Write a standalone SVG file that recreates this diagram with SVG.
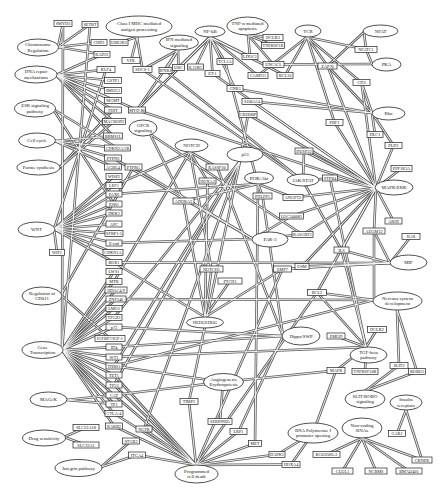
<svg xmlns="http://www.w3.org/2000/svg" xmlns:xlink="http://www.w3.org/1999/xlink" width="448" height="500" viewBox="0 0 448 500">
<style>
.eo{stroke:#5c5c5c;stroke-width:2.6;fill:none;stroke-linecap:round}
.ei{stroke:#fff;stroke-width:0.9;fill:none}
.g rect{fill:#fff;stroke:#222;stroke-width:0.7}
.g text{font-family:"Liberation Serif",serif;font-size:4.3px;text-anchor:middle;fill:#111}
.p ellipse{fill:#fff;stroke:#222;stroke-width:0.8}
.p text{font-family:"Liberation Serif",serif;font-size:4.8px;text-anchor:middle;fill:#111}
</style>
<rect width="448" height="500" fill="#fff"/>
<g id="connectors">
<g class="eo"><g id="edges">
<path d="M58 47L63 23.5"/><path d="M58 47L90 24.5"/><path d="M58 47L99 42.5"/><path d="M58 47L102 54.5"/>
<path d="M56 75L102 54.5"/><path d="M56 75L106 69.5"/><path d="M56 75L113 80.5"/><path d="M56 75L113 90.5"/><path d="M56 75L113 100.5"/><path d="M56 75L113 110"/><path d="M56 75L114 121.5"/><path d="M56 75L113 136"/><path d="M56 75L137 110"/>
<path d="M53 109L114 204"/><path d="M53 109L117.5 148"/>
<path d="M55 141L113 136"/><path d="M55 141L117.5 148"/><path d="M55 141L113 158"/><path d="M55 141L113 167"/>
<path d="M59 168L113 110"/><path d="M59 168L114 121.5"/>
<path d="M54 229L106 69.5"/><path d="M54 229L114 176.5"/><path d="M54 229L114 185.5"/><path d="M54 229L114 194"/><path d="M54 229L114 204"/><path d="M54 229L114 213"/><path d="M54 229L114 224"/><path d="M54 229L114 233.5"/><path d="M54 229L114 243"/><path d="M54 229L113 252.5"/><path d="M54 229L57 252.5"/><path d="M54 229L114 262.5"/>
<path d="M61 295L133.5 167"/><path d="M61 295L110 338.5"/>
<path d="M62 350L63 23.5"/><path d="M62 350L90 24.5"/><path d="M62 350L114 271.5"/><path d="M62 350L114 281.5"/><path d="M62 350L116 290"/><path d="M62 350L116 299"/><path d="M62 350L114 308.5"/><path d="M62 350L114 317.5"/><path d="M62 350L114 327"/><path d="M62 350L114 347"/><path d="M62 350L114 357"/><path d="M62 350L114 366"/><path d="M62 350L114 375"/><path d="M62 350L114 385"/><path d="M62 350L114 395"/><path d="M62 350L114 404"/><path d="M62 350L114 413.5"/><path d="M62 350L114 426"/>
<path d="M66 400L114 404"/><path d="M66 400L114 395"/>
<path d="M64 437L86 427.5"/><path d="M64 437L86 445"/>
<path d="M101 467L131 441"/><path d="M101 467L137 455"/>
<path d="M137 37L119 42.5"/><path d="M137 37L131 60.5"/><path d="M137 37L142.5 69.5"/>
<path d="M178 50L142.5 69.5"/><path d="M178 50L165.5 70.5"/><path d="M178 50L137 110"/><path d="M178 50L178.5 67.5"/>
<path d="M210 37L137 110"/><path d="M210 37L178.5 67.5"/><path d="M210 37L195.5 67"/><path d="M210 37L212.5 73.5"/><path d="M210 37L225 61.5"/><path d="M210 37L250 56.5"/><path d="M210 37L258 75.5"/><path d="M210 37L285 75.5"/><path d="M210 37L235 88.5"/>
<path d="M248 35L250 56.5"/><path d="M248 35L273 37.5"/><path d="M248 35L273 45.5"/><path d="M248 35L273.5 64.5"/>
<path d="M307 37L327.5 66"/><path d="M307 37L366 49.5"/><path d="M307 37L361.5 82.5"/><path d="M307 37L334.5 122.5"/><path d="M307 37L258 75.5"/><path d="M307 37L285 75.5"/>
<path d="M364 32L366 49.5"/><path d="M364 32L327.5 66"/>
<path d="M372 64L366 49.5"/><path d="M372 64L273.5 64.5"/>
<path d="M372 113L361.5 82.5"/><path d="M372 113L327.5 66"/><path d="M372 113L375 134.5"/><path d="M372 113L393.5 145.5"/><path d="M372 113L235 88.5"/><path d="M372 113L252 101.5"/>
<path d="M376 188L401.5 168.5"/><path d="M376 188L393.5 145.5"/><path d="M376 188L304 151"/><path d="M376 188L330 178"/><path d="M376 188L293 197.5"/><path d="M376 188L291.5 216"/><path d="M376 188L302.5 234.5"/><path d="M376 188L393.5 221"/><path d="M376 188L374 231"/><path d="M376 188L341.5 250"/><path d="M376 188L334.5 122.5"/><path d="M376 188L327.5 66"/><path d="M376 188L361.5 82.5"/><path d="M376 188L252 101.5"/><path d="M376 188L248 114.5"/><path d="M376 188L212.5 73.5"/><path d="M376 188L137 110"/><path d="M376 188L302 266.5"/><path d="M376 188L317 292.5"/>
<path d="M303 181L304 151"/><path d="M303 181L142.5 69.5"/><path d="M303 181L165.5 70.5"/><path d="M303 181L341.5 250"/><path d="M303 181L330 178"/>
<path d="M190 152L217 167"/><path d="M190 152L207.5 181"/><path d="M190 152L211.5 269"/><path d="M190 152L114 185.5"/><path d="M190 152L114 281.5"/>
<path d="M150 134L183.5 201"/><path d="M150 134L302.5 234.5"/>
<path d="M240 161L248 114.5"/><path d="M240 161L189 401.5"/><path d="M240 161L144 429"/><path d="M240 161L114 366"/><path d="M240 161L114 385"/><path d="M240 161L114 317.5"/>
<path d="M258 184L262.5 196"/><path d="M258 184L293 197.5"/><path d="M258 184L183.5 201"/><path d="M258 184L225 61.5"/><path d="M258 184L114 194"/><path d="M258 184L255 443.5"/>
<path d="M253 239L133.5 167"/><path d="M253 239L302.5 234.5"/><path d="M253 239L291.5 216"/><path d="M253 239L114 243"/><path d="M253 239L113 158"/>
<path d="M390 263L411 236.5"/><path d="M390 263L302 266.5"/><path d="M390 263L282.5 269"/><path d="M390 263L341.5 250"/><path d="M390 263L374 231"/><path d="M390 263L114 262.5"/>
<path d="M374 300L317 292.5"/><path d="M374 300L116 299"/><path d="M374 300L114 366"/><path d="M374 300L374 231"/>
<path d="M397 310L399 365.5"/><path d="M397 310L417 371.5"/>
<path d="M205 317L211.5 269"/><path d="M205 317L230 281"/><path d="M205 317L282.5 269"/><path d="M205 317L207.5 181"/><path d="M205 317L183.5 201"/><path d="M205 317L114 262.5"/>
<path d="M283 336L217 167"/><path d="M283 336L262.5 196"/><path d="M283 336L114 327"/><path d="M283 336L114 347"/><path d="M283 336L238.5 431.5"/>
<path d="M366 347L336 336"/><path d="M366 347L377 329.5"/><path d="M366 347L317 292.5"/><path d="M366 347L114 357"/><path d="M366 347L341.5 250"/><path d="M366 347L330 178"/><path d="M366 347L365 371.5"/><path d="M366 347L336 370.5"/>
<path d="M223 382L220 421.5"/><path d="M223 382L114 366"/><path d="M223 382L114 395"/><path d="M223 382L336 370.5"/>
<path d="M196 465L144 429"/><path d="M196 465L137 455"/><path d="M196 465L189 401.5"/><path d="M196 465L238.5 431.5"/><path d="M196 465L255 443.5"/><path d="M196 465L277 454.5"/><path d="M196 465L291 464.5"/><path d="M196 465L114 385"/><path d="M196 465L114 395"/><path d="M196 465L114 413.5"/><path d="M196 465L114 426"/><path d="M196 465L114 375"/><path d="M196 465L317 292.5"/><path d="M196 465L282.5 269"/>
<path d="M313 433L291 464.5"/><path d="M313 433L277 454.5"/><path d="M313 433L336 370.5"/>
<path d="M362 438L326.5 454.5"/><path d="M362 438L342.5 471"/><path d="M362 438L376 471"/><path d="M362 438L409 471"/><path d="M362 438L422 460"/>
<path d="M365 391L399 365.5"/><path d="M365 391L417 371.5"/>
<path d="M406 410L397 433.5"/><path d="M406 410L422 460"/>
</g></g>
<use xlink:href="#edges" href="#edges" class="ei"/>
</g>
<g id="pathways" class="p">
<g id="n-chrom"><ellipse cx="38" cy="47.5" rx="20.5" ry="8.5"/><text x="38" y="46.2">Chromosome</text><text x="38" y="51.8">Regulation</text></g>
<g id="n-dna"><ellipse cx="36" cy="74.5" rx="21" ry="8.5"/><text x="36" y="73.2">DNA repair</text><text x="36" y="78.8">mechanisms</text></g>
<g id="n-esr"><ellipse cx="35" cy="108.5" rx="20.5" ry="8.5"/><text x="35" y="107.2">ESR signaling</text><text x="35" y="112.8">pathway</text></g>
<g id="n-cc"><ellipse cx="37" cy="140.5" rx="18.5" ry="7.5"/><text x="37" y="142.2">Cell cycle</text></g>
<g id="n-pur"><ellipse cx="38.5" cy="167.5" rx="21.5" ry="7.5"/><text x="38.5" y="169.2">Purine synthesis</text></g>
<g id="n-wnt"><ellipse cx="36.5" cy="229.5" rx="18.5" ry="7.5"/><text x="36.5" y="231.2">WNT</text></g>
<g id="n-reg"><ellipse cx="42" cy="296" rx="20" ry="9"/><text x="42" y="294.7">Regulation of</text><text x="42" y="300.3">CD011</text></g>
<g id="n-gt"><ellipse cx="42.5" cy="350" rx="20.5" ry="8.5"/><text x="42.5" y="348.7">Gene</text><text x="42.5" y="354.3">Transcription</text></g>
<g id="n-mag"><ellipse cx="48.5" cy="399.5" rx="18.5" ry="7.5"/><text x="48.5" y="401.2">MAGeK</text></g>
<g id="n-drug"><ellipse cx="44" cy="438" rx="21.5" ry="8"/><text x="44" y="439.7">Drug sensitivity</text></g>
<g id="n-integ"><ellipse cx="78.5" cy="468" rx="23.5" ry="8.5"/><text x="78.5" y="469.7">Integrin pathway</text></g>
<g id="n-mhc"><ellipse cx="139" cy="26.5" rx="33" ry="10.5"/><text x="139" y="25.2">Class I MHC mediated</text><text x="139" y="30.8">antigen processing</text></g>
<g id="n-ifn"><ellipse cx="179" cy="42.5" rx="19.5" ry="7.5"/><text x="179" y="41.2">IFN mediated</text><text x="179" y="46.8">signaling</text></g>
<g id="n-nfkb"><ellipse cx="210" cy="31.5" rx="15" ry="5.5"/><text x="210" y="33.2">NF-kB</text></g>
<g id="n-tnf"><ellipse cx="247.5" cy="26" rx="20.5" ry="9"/><text x="247.5" y="24.7">TNF-α mediated</text><text x="247.5" y="30.3">apoptosis</text></g>
<g id="n-tcr"><ellipse cx="308" cy="31" rx="13" ry="6"/><text x="308" y="32.7">TCR</text></g>
<g id="n-nfat"><ellipse cx="380.5" cy="31" rx="17.5" ry="6"/><text x="380.5" y="32.7">NFAT</text></g>
<g id="n-pka"><ellipse cx="386.5" cy="64.5" rx="14.5" ry="6.5"/><text x="386.5" y="66.2">PKA</text></g>
<g id="n-rho"><ellipse cx="388.5" cy="113.5" rx="16.5" ry="6.5"/><text x="388.5" y="115.2">Rho</text></g>
<g id="n-mapk"><ellipse cx="394" cy="187.5" rx="19" ry="7.5"/><text x="394" y="189.2">MAPK/ERK</text></g>
<g id="n-jak"><ellipse cx="303" cy="180" rx="16" ry="6"/><text x="303" y="181.7">JAK/STAT</text></g>
<g id="n-notch"><ellipse cx="191.5" cy="145.5" rx="16.5" ry="6.5"/><text x="191.5" y="147.2">NOTCH</text></g>
<g id="n-gpcr"><ellipse cx="143" cy="128" rx="14" ry="8"/><text x="143" y="126.7">GPCR</text><text x="143" y="132.3">signaling</text></g>
<g id="n-p53"><ellipse cx="245" cy="154.5" rx="18" ry="7.5"/><text x="245" y="156.2">p53</text></g>
<g id="n-pi3k"><ellipse cx="259" cy="178" rx="14.5" ry="6"/><text x="259" y="179.7">PI3K/Akt</text></g>
<g id="n-pak"><ellipse cx="270" cy="239.5" rx="18" ry="7.5"/><text x="270" y="241.2">PAK-2</text></g>
<g id="n-mif"><ellipse cx="408.5" cy="262.5" rx="18.5" ry="7.5"/><text x="408.5" y="264.2">MIF</text></g>
<g id="n-nsd"><ellipse cx="397.5" cy="301" rx="24.5" ry="9"/><text x="397.5" y="299.7">Nervous system</text><text x="397.5" y="305.3">development</text></g>
<g id="n-hh"><ellipse cx="205" cy="322.5" rx="18.5" ry="5.5"/><text x="205" y="324.1" style="font-size:4.4px">HEDGEHOG</text></g>
<g id="n-hippo"><ellipse cx="301" cy="336" rx="19" ry="9"/><text x="301" y="337.7">Hippo/SWP</text></g>
<g id="n-tgf"><ellipse cx="368.5" cy="355" rx="18.5" ry="8"/><text x="368.5" y="353.7">TGF-beta</text><text x="368.5" y="359.3">pathway</text></g>
<g id="n-angio"><ellipse cx="223.5" cy="382" rx="20" ry="8.5"/><text x="223.5" y="380.7">Angiogenesis</text><text x="223.5" y="386.3">Erythropoiesis</text></g>
<g id="n-pcd"><ellipse cx="196.5" cy="474" rx="21.5" ry="9"/><text x="196.5" y="472.7">Programmed</text><text x="196.5" y="478.3">cell death</text></g>
<g id="n-rna"><ellipse cx="313" cy="433" rx="25" ry="10"/><text x="313" y="431.7">RNA Polymerase I</text><text x="313" y="437.3">promoter opening</text></g>
<g id="n-nc"><ellipse cx="362" cy="428" rx="20" ry="10"/><text x="362" y="426.7">Non-coding</text><text x="362" y="432.3">RNAs</text></g>
<g id="n-slit"><ellipse cx="365" cy="399" rx="20" ry="9"/><text x="365" y="397.7">SLIT/ROBO</text><text x="365" y="403.3">signaling</text></g>
<g id="n-ins"><ellipse cx="406" cy="402.5" rx="16" ry="7.5"/><text x="406" y="401.2">Insulin</text><text x="406" y="406.8">receptors</text></g>
</g>
<g id="genes" class="g">
<g id="g-smyd3"><rect x="54" y="20.5" width="18" height="6"/><text x="63" y="25">SMYD3</text></g>
<g id="g-setbt"><rect x="82" y="21.5" width="16" height="6"/><text x="90" y="26">SETBT</text></g>
<g id="g-chd1"><rect x="91" y="39.5" width="16" height="6"/><text x="99" y="44">CHD1</text></g>
<g id="g-ube2r2"><rect x="110" y="39.5" width="18" height="6"/><text x="119" y="44">UBE2R2</text></g>
<g id="g-rad21"><rect x="94" y="51.5" width="16" height="6"/><text x="102" y="56">RAD21</text></g>
<g id="g-vhl"><rect x="122" y="57.5" width="18" height="6"/><text x="131" y="62">VHL</text></g>
<g id="g-klf4"><rect x="97" y="66.5" width="18" height="6"/><text x="106" y="71">KLF4</text></g>
<g id="g-socs1"><rect x="133" y="66.5" width="19" height="6"/><text x="142.5" y="71">SOCS-1</text></g>
<g id="g-gstp1"><rect x="104.5" y="77.5" width="17" height="6"/><text x="113" y="82">GSTP1</text></g>
<g id="g-smug1"><rect x="104.5" y="87.5" width="17" height="6"/><text x="113" y="92">SMUG1</text></g>
<g id="g-mgmt"><rect x="104.5" y="97.5" width="17" height="6"/><text x="113" y="102">MGMT</text></g>
<g id="g-fhit"><rect x="104.5" y="107" width="17" height="6"/><text x="113" y="111.5">FHIT</text></g>
<g id="g-myd88"><rect x="128.5" y="107" width="17" height="6"/><text x="137" y="111.5">MYD 88</text></g>
<g id="g-macrod2"><rect x="102.5" y="118.5" width="23" height="6"/><text x="114" y="123">MACROD2</text></g>
<g id="g-brms1l"><rect x="103.5" y="133" width="19" height="6"/><text x="113" y="137.5">BRMS1L</text></g>
<g id="g-cdkn2a"><rect x="104.5" y="145" width="26" height="6"/><text x="117.5" y="149.5">CDKN2A/2B</text></g>
<g id="g-ptpn6"><rect x="104.5" y="155" width="17" height="6"/><text x="113" y="159.5">PTPN6</text></g>
<g id="g-agbl4"><rect x="104.5" y="164" width="17" height="6"/><text x="113" y="168.5">AGBL4</text></g>
<g id="g-ptprg"><rect x="125" y="164" width="17" height="6"/><text x="133.5" y="168.5">PTPRG</text></g>
<g id="g-wisp2"><rect x="106" y="173.5" width="16" height="6"/><text x="114" y="178">WISP2</text></g>
<g id="g-lef1"><rect x="106" y="182.5" width="16" height="6"/><text x="114" y="187">LEF1</text></g>
<g id="g-pax6"><rect x="106" y="191" width="16" height="6"/><text x="114" y="195.5">PAX6</text></g>
<g id="g-esr1"><rect x="106" y="201" width="16" height="6"/><text x="114" y="205.5">ESR1</text></g>
<g id="g-dkk3"><rect x="106" y="210" width="16" height="6"/><text x="114" y="214.5">DKK3</text></g>
<g id="g-apc"><rect x="106" y="221" width="16" height="6"/><text x="114" y="225.5">APC</text></g>
<g id="g-sfrp"><rect x="105" y="230.5" width="18" height="6"/><text x="114" y="235">SFRP1-5</text></g>
<g id="g-ecad"><rect x="106" y="240" width="16" height="6"/><text x="114" y="244.5">E-cad</text></g>
<g id="g-dkn1a"><rect x="103" y="249.5" width="20" height="6"/><text x="113" y="254">CDKN1A</text></g>
<g id="g-wif1"><rect x="49.5" y="249.5" width="15" height="6"/><text x="57" y="254">WIF1</text></g>
<g id="g-bor1"><rect x="106" y="259.5" width="16" height="6"/><text x="114" y="264">BOR1</text></g>
<g id="g-lws1"><rect x="106" y="268.5" width="16" height="6"/><text x="114" y="273">LWS1</text></g>
<g id="g-mtr"><rect x="106" y="278.5" width="16" height="6"/><text x="114" y="283">MTR</text></g>
<g id="g-hdac4"><rect x="105" y="287" width="22" height="6"/><text x="116" y="291.5">HDAC4/9</text></g>
<g id="g-znf340"><rect x="106" y="296" width="20" height="6"/><text x="116" y="300.5">ZNF340</text></g>
<g id="g-lmo2"><rect x="106" y="305.5" width="16" height="6"/><text x="114" y="310">LMO2</text></g>
<g id="g-tp53i3"><rect x="106" y="314.5" width="16" height="6"/><text x="114" y="319">TP53I3</text></g>
<g id="g-p73"><rect x="106" y="324" width="16" height="6"/><text x="114" y="328.5">p73</text></g>
<g id="g-igfbp7"><rect x="95" y="335.5" width="30" height="6"/><text x="110" y="340">IGFBP7/IGF-1</text></g>
<g id="g-id4"><rect x="106" y="344" width="16" height="6"/><text x="114" y="348.5">ID4</text></g>
<g id="g-wt1"><rect x="106" y="354" width="16" height="6"/><text x="114" y="358.5">WT1</text></g>
<g id="g-thbs1"><rect x="106" y="363" width="16" height="6"/><text x="114" y="367.5">THBS1</text></g>
<g id="g-tet1"><rect x="106" y="372" width="16" height="6"/><text x="114" y="376.5">TET1</text></g>
<g id="g-tp53"><rect x="106" y="382" width="16" height="6"/><text x="114" y="386.5">TP53</text></g>
<g id="g-cat"><rect x="106" y="392" width="16" height="6"/><text x="114" y="396.5">CAT</text></g>
<g id="g-tp1"><rect x="106" y="401" width="16" height="6"/><text x="114" y="405.5">TP1</text></g>
<g id="g-ctla4"><rect x="105" y="410.5" width="18" height="6"/><text x="114" y="415">CTLA-4</text></g>
<g id="g-rarb2"><rect x="105.5" y="423" width="17" height="6"/><text x="114" y="427.5">RARB2</text></g>
<g id="g-slc22"><rect x="73" y="424.5" width="26" height="6"/><text x="86" y="429">SLC22A18</text></g>
<g id="g-slc33"><rect x="73" y="442" width="26" height="6"/><text x="86" y="446.5">SLC33A1</text></g>
<g id="g-ngfr"><rect x="136" y="426" width="16" height="6"/><text x="144" y="430.5">NGFR</text></g>
<g id="g-stgb2"><rect x="122.5" y="438" width="17" height="6"/><text x="131" y="442.5">STGB2</text></g>
<g id="g-itga4"><rect x="128.5" y="452" width="17" height="6"/><text x="137" y="456.5">ITGA4</text></g>
<g id="g-timp2"><rect x="180" y="398.5" width="18" height="6"/><text x="189" y="403">TIMP2</text></g>
<g id="g-serp"><rect x="208" y="418.5" width="24" height="6"/><text x="220" y="423">SERPINB5</text></g>
<g id="g-lrp1"><rect x="230" y="428.5" width="17" height="6"/><text x="238.5" y="433">LRP1</text></g>
<g id="g-met"><rect x="248.5" y="440.5" width="13" height="6"/><text x="255" y="445">MET</text></g>
<g id="g-dapk1"><rect x="269" y="451.5" width="16" height="6"/><text x="277" y="456">DAPK1</text></g>
<g id="g-hoxa4"><rect x="282" y="461.5" width="18" height="6"/><text x="291" y="466">HOXA4</text></g>
<g id="g-bc03"><rect x="313" y="451.5" width="27" height="6"/><text x="326.5" y="456">BC032065.2</text></g>
<g id="g-clul1"><rect x="332" y="468" width="21" height="6"/><text x="342.5" y="472.5">CLUL1</text></g>
<g id="g-ncrms"><rect x="365" y="468" width="22" height="6"/><text x="376" y="472.5">NCRMS</text></g>
<g id="g-bm74"><rect x="396" y="468" width="26" height="6"/><text x="409" y="472.5">BM742401</text></g>
<g id="g-crnde"><rect x="412" y="457" width="20" height="6"/><text x="422" y="461.5">CRNDE</text></g>
<g id="g-gab1"><rect x="388.5" y="430.5" width="17" height="6"/><text x="397" y="435">GAB1</text></g>
<g id="g-slit2"><rect x="390" y="362.5" width="18" height="6"/><text x="399" y="367">SLIT2</text></g>
<g id="g-robo1"><rect x="408.5" y="368.5" width="17" height="6"/><text x="417" y="373">ROBO1</text></g>
<g id="g-tnfrsf10b"><rect x="352" y="368.5" width="26" height="6"/><text x="365" y="373">TNFRSF10B</text></g>
<g id="g-mafb"><rect x="327" y="367.5" width="18" height="6"/><text x="336" y="372">MAFB</text></g>
<g id="g-emod"><rect x="327" y="333" width="18" height="6"/><text x="336" y="337.5">EMOD</text></g>
<g id="g-dclk2b"><rect x="367.5" y="326.5" width="19" height="6"/><text x="377" y="331">DCLK2</text></g>
<g id="g-bcl2"><rect x="307.5" y="289.5" width="19" height="6"/><text x="317" y="294">BCL2</text></g>
<g id="g-osm"><rect x="295" y="263.5" width="14" height="6"/><text x="302" y="268">OSM</text></g>
<g id="g-emp7"><rect x="273.5" y="266" width="18" height="6"/><text x="282.5" y="270.5">EMP7</text></g>
<g id="g-il6"><rect x="334" y="247" width="15" height="6"/><text x="341.5" y="251.5">IL6</text></g>
<g id="g-il18"><rect x="402" y="233.5" width="18" height="6"/><text x="411" y="238">IL18</text></g>
<g id="g-adam12"><rect x="363" y="228" width="22" height="6"/><text x="374" y="232.5">ADAM12</text></g>
<g id="g-arhi"><rect x="385" y="218" width="17" height="6"/><text x="393.5" y="222.5">ARHI</text></g>
<g id="g-rasgrf1"><rect x="292" y="231.5" width="21" height="6"/><text x="302.5" y="236">RASGRF1</text></g>
<g id="g-loc"><rect x="279.5" y="213" width="24" height="6"/><text x="291.5" y="217.5">LOC340081</text></g>
<g id="g-angpt"><rect x="283" y="194.5" width="20" height="6"/><text x="293" y="199">ANGPT2</text></g>
<g id="g-phlpp1"><rect x="253" y="193" width="19" height="6"/><text x="262.5" y="197.5">PHLPP1</text></g>
<g id="g-hoxa"><rect x="199" y="178" width="17" height="6"/><text x="207.5" y="182.5">HOXA2</text></g>
<g id="g-rassf10"><rect x="206" y="164" width="22" height="6"/><text x="217" y="168.5">RASSF10</text></g>
<g id="g-adora3"><rect x="173" y="198" width="21" height="6"/><text x="183.5" y="202.5">ADORA3</text></g>
<g id="g-dusp22"><rect x="295" y="148" width="18" height="6"/><text x="304" y="152.5">DUSP22</text></g>
<g id="g-stpb4"><rect x="322.5" y="175" width="15" height="6"/><text x="330" y="179.5">STPB4</text></g>
<g id="g-dlc1"><rect x="367" y="131.5" width="16" height="6"/><text x="375" y="136">DLC1</text></g>
<g id="g-pld1"><rect x="385" y="142.5" width="17" height="6"/><text x="393.5" y="147">PLD1</text></g>
<g id="g-ppp1r3a"><rect x="391" y="165.5" width="21" height="6"/><text x="401.5" y="170">PPP1R3A</text></g>
<g id="g-notch1"><rect x="200" y="266" width="23" height="6"/><text x="211.5" y="270.5">NOTCH1</text></g>
<g id="g-ptch1"><rect x="218" y="278" width="24" height="6"/><text x="230" y="282.5">PTCH1</text></g>
<g id="g-nfatc1"><rect x="355" y="46.5" width="22" height="6"/><text x="366" y="51">NFATC1</text></g>
<g id="g-zap70"><rect x="318" y="63" width="19" height="6"/><text x="327.5" y="67.5">ZAP70</text></g>
<g id="g-cd3"><rect x="353" y="79.5" width="17" height="6"/><text x="361.5" y="84">CD3</text></g>
<g id="g-prf1"><rect x="326" y="119.5" width="17" height="6"/><text x="334.5" y="124">PRF1</text></g>
<g id="g-ifnb1"><rect x="159" y="67.5" width="13" height="6"/><text x="165.5" y="72">IFNB1</text></g>
<g id="g-ubc"><rect x="172.5" y="64.5" width="12" height="6"/><text x="178.5" y="69">UBC</text></g>
<g id="g-il12rg"><rect x="187.5" y="64" width="16" height="6"/><text x="195.5" y="68.5">IL12RG</text></g>
<g id="g-et1"><rect x="205" y="70.5" width="15" height="6"/><text x="212.5" y="75">ET-1</text></g>
<g id="g-tcl1a"><rect x="217" y="58.5" width="16" height="6"/><text x="225" y="63">TCL1A</text></g>
<g id="g-ldoc1"><rect x="242" y="53.5" width="16" height="6"/><text x="250" y="58">LDOC1</text></g>
<g id="g-dclk3"><rect x="263" y="34.5" width="20" height="6"/><text x="273" y="39">DCLK3</text></g>
<g id="g-tnfrsf1b"><rect x="261.5" y="42.5" width="23" height="6"/><text x="273" y="47">TNFRSF1B</text></g>
<g id="g-unc5cl"><rect x="263" y="61.5" width="21" height="6"/><text x="273.5" y="66">UNC5CL</text></g>
<g id="g-card11"><rect x="248" y="72.5" width="20" height="6"/><text x="258" y="77">CARD11</text></g>
<g id="g-bcl10"><rect x="277" y="72.5" width="16" height="6"/><text x="285" y="77">BCL10</text></g>
<g id="g-gnb3"><rect x="227" y="85.5" width="16" height="6"/><text x="235" y="90">GNB3</text></g>
<g id="g-s100a14"><rect x="242" y="98.5" width="20" height="6"/><text x="252" y="103">S100A14</text></g>
<g id="g-crebbp"><rect x="239" y="111.5" width="18" height="6"/><text x="248" y="116">CREBBP</text></g>
</g>
</svg>
